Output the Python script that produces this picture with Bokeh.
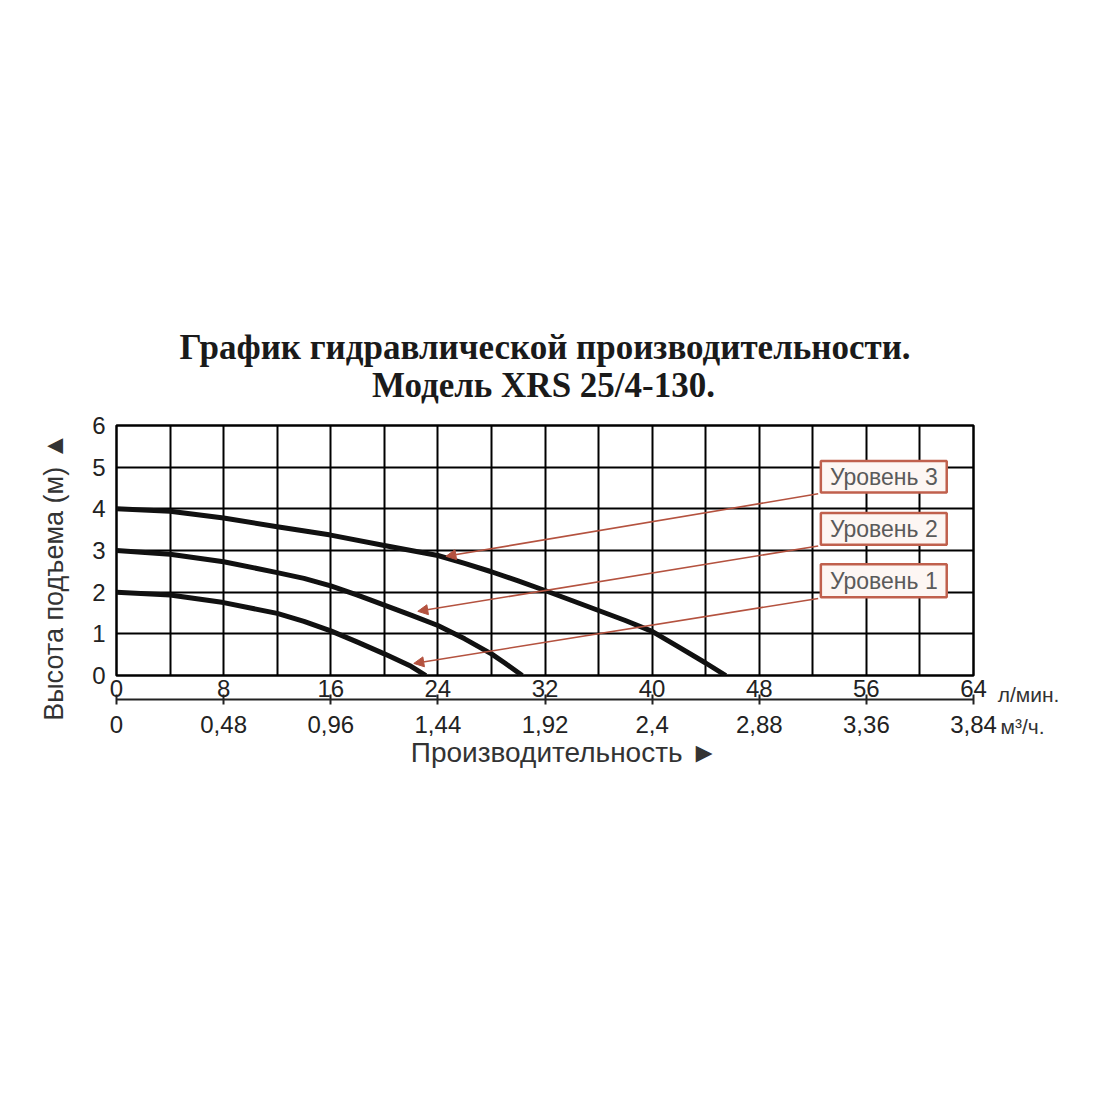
from bokeh.plotting import figure
from bokeh.layouts import row
from bokeh.models import Range1d, LinearAxis, FixedTicker, Arrow, NormalHead, Title
from bokeh.embed import file_html
from bokeh.resources import INLINE
from bokeh.core.properties import value

# ---- data ----
flow_ticks = [0, 8, 16, 24, 32, 40, 48, 56, 64]
m3_ticks = [0, 0.48, 0.96, 1.44, 1.92, 2.4, 2.88, 3.36, 3.84]
m3_labels = ["0", "0,48", "0,96", "1,44", "1,92", "2,4", "2,88", "3,36", "3,84"]
head_ticks = [0, 1, 2, 3, 4, 5, 6]

lvl3_q = [0, 4, 8, 12, 16, 20, 22, 24, 26, 28, 30, 32, 34, 36, 38, 40, 42, 44, 45.5]
lvl3_h = [4.0, 3.94, 3.78, 3.57, 3.37, 3.12, 3.0, 2.88, 2.69, 2.49, 2.27, 2.04, 1.8, 1.56, 1.32, 1.06, 0.68, 0.3, 0.0]
lvl2_q = [0, 4, 8, 12, 14, 16, 18, 20, 22, 24, 26, 28, 29, 30.3]
lvl2_h = [3.0, 2.91, 2.73, 2.47, 2.33, 2.15, 1.93, 1.69, 1.45, 1.2, 0.88, 0.52, 0.3, 0.0]
lvl1_q = [0, 4, 8, 12, 14, 16, 18, 20, 22, 23.1]
lvl1_h = [2.0, 1.93, 1.75, 1.49, 1.3, 1.07, 0.8, 0.52, 0.22, 0.0]

level_names = ["Уровень 3", "Уровень 2", "Уровень 1"]
# arrow tips (point on each curve)
tip_q = [24.6, 22.5, 22.2]
tip_h = [2.86, 1.54, 0.29]

title_1 = "График гидравлической производительности."
title_2 = "Модель XRS 25/4-130."
y_label = "Высота подъема (м) ▲"
x_label = "Производительность ►"
unit_flow = "л/мин."
unit_m3 = "м³/ч."

# ---- layout constants ----
box_left, box_right = 52.6, 62.0
box_tops = [5.15, 3.90, 2.67]
box_bottoms = [4.39, 3.14, 1.88]
arrow_start_q = 52.4

SANS = "Liberation Sans"
red = "#b4523f"
H = 1090
NB = "\u00a0"

p = figure(width=997, height=H, x_range=Range1d(0, 64), y_range=Range1d(0, 6),
           output_backend="svg", toolbar_location=None,
           min_border_left=116, min_border_right=24,
           min_border_top=425, min_border_bottom=415)
p.background_fill_color = "white"
p.border_fill_color = "white"
p.outline_line_color = "black"
p.outline_line_width = 2.5

p.xgrid.ticker = FixedTicker(ticks=list(range(0, 65, 4)))
p.ygrid.ticker = FixedTicker(ticks=head_ticks)
for g in (p.xgrid, p.ygrid):
    g.grid_line_color = "black"
    g.grid_line_width = 2
    g.grid_line_alpha = 1.0

# primary x axis (л/мин)
xa = p.xaxis[0]
xa.ticker = FixedTicker(ticks=flow_ticks)
xa.axis_line_color = None
xa.major_tick_out = 0
xa.major_tick_in = 0
xa.minor_tick_line_color = None
xa.major_label_text_font = SANS
xa.major_label_text_font_size = "24px"
xa.major_label_text_color = "#222222"
xa.major_label_standoff = 4

# secondary x axis (м3/ч)
p.extra_x_ranges = {"m3": Range1d(0, 3.84)}
ax2 = LinearAxis(x_range_name="m3", ticker=FixedTicker(ticks=m3_ticks),
                 major_label_overrides={t: s for t, s in zip(m3_ticks, m3_labels)})
ax2.axis_line_width = 2
ax2.axis_line_color = "#222222"
ax2.major_tick_in = 5
ax2.major_tick_out = 5
ax2.major_tick_line_width = 2
ax2.major_tick_line_color = "#222222"
ax2.minor_tick_line_color = None
ax2.major_label_text_font = SANS
ax2.major_label_text_font_size = "24px"
ax2.major_label_text_color = "#222222"
ax2.major_label_standoff = 11
ax2.axis_label = NB * 5 + x_label
ax2.axis_label_text_font = SANS
ax2.axis_label_text_font_size = "28px"
ax2.axis_label_text_font_style = "normal"
ax2.axis_label_text_color = "#333333"
ax2.axis_label_standoff = 1
p.add_layout(ax2, "below")

# y axis
ya = p.yaxis[0]
ya.ticker = FixedTicker(ticks=head_ticks)
ya.axis_line_color = None
ya.major_tick_out = 0
ya.major_tick_in = 0
ya.minor_tick_line_color = None
ya.major_label_text_font = SANS
ya.major_label_text_font_size = "24px"
ya.major_label_text_color = "#222222"
ya.major_label_standoff = 11
ya.axis_label = y_label + NB * 7
ya.axis_label_text_font = SANS
ya.axis_label_text_font_size = "27px"
ya.axis_label_text_font_style = "normal"
ya.axis_label_text_color = "#333333"
ya.axis_label_standoff = 20

# two-line title (second line indented so that it sits centred under the first)
p.add_layout(Title(text=title_1 + "\n" + NB * 22 + title_2, align="center",
                   text_font="Liberation Serif", text_font_size="35px",
                   text_font_style="bold", text_color="#1a1a1a",
                   text_line_height=0.98, standoff=41), "above")

# curves
for q, h in ((lvl3_q, lvl3_h), (lvl2_q, lvl2_h), (lvl1_q, lvl1_h)):
    p.line(q, h, line_color="#111111", line_width=5, line_join="round")

# label boxes
mid = [(t + b) / 2 for t, b in zip(box_tops, box_bottoms)]
p.quad(left=[box_left] * 3, right=[box_right] * 3, top=box_tops, bottom=box_bottoms,
       fill_color="#fdf6f3", line_color="#c0604d", line_width=2.5)
p.text(x=[(box_left + box_right) / 2] * 3, y=mid, text=level_names,
       text_align="center", text_baseline="middle",
       text_font=value(SANS), text_font_size="23px", text_color="#5a5a5a")

# arrows
for qt, ht, bb in zip(tip_q, tip_h, box_bottoms):
    p.add_layout(Arrow(end=NormalHead(size=10, fill_color=red, line_color=red, line_width=1),
                       x_start=arrow_start_q, y_start=bb - 0.03, x_end=qt, y_end=ht,
                       line_color=red, line_width=1.6))

# unit captions: a narrow strip to the right whose axes carry the unit names
u = figure(width=100, height=H, x_range=Range1d(0, 100), y_range=Range1d(0, 1),
           output_backend="svg", toolbar_location=None, x_axis_type=None, y_axis_type=None,
           min_border=0)
u.outline_line_color = None
u.background_fill_color = "white"
u.border_fill_color = "white"
u.grid.visible = False

ua1 = LinearAxis(ticker=FixedTicker(ticks=[31]), major_label_overrides={31: unit_flow})
ua2 = LinearAxis(ticker=FixedTicker(ticks=[25]), major_label_overrides={25: unit_m3})
for ax, so in ((ua1, 7), (ua2, 6)):
    ax.axis_line_color = None
    ax.major_tick_line_color = None
    ax.minor_tick_line_color = None
    ax.major_tick_in = 0
    ax.major_tick_out = 0
    ax.major_label_text_font = SANS
    ax.major_label_text_font_size = "21px"
    ax.major_label_text_color = "#333333"
    ax.major_label_standoff = so
    u.add_layout(ax, "below")

layout = row(p, u)
open("out.html", "w").write(file_html(layout, INLINE))
